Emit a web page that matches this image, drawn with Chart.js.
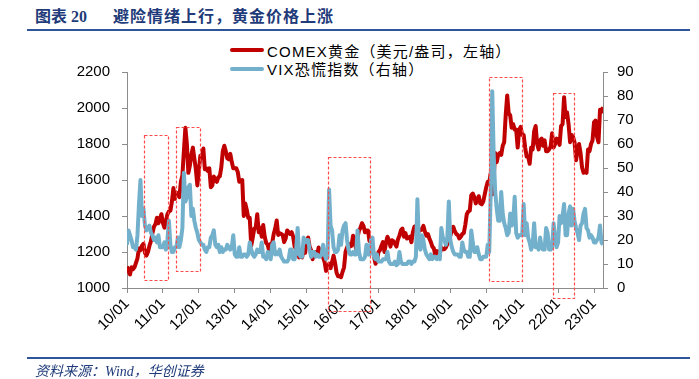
<!DOCTYPE html>
<html><head><meta charset="utf-8">
<script src="https://cdn.jsdelivr.net/npm/chart.js@4.4.1/dist/chart.umd.min.js"></script>
<style>
html,body{margin:0;padding:0;background:#fff}
body{width:699px;height:379px;position:relative;overflow:hidden;font-family:"Liberation Sans",Arial,"Noto Sans CJK SC",sans-serif;text-spacing-trim:space-all}
#title{position:absolute;left:35px;top:6px;font-weight:bold;font-size:16px;color:#1f3b7a;white-space:pre;font-family:"Liberation Serif","Noto Sans CJK SC",serif;line-height:22px}
#title .b{margin-left:26px;letter-spacing:1px}
.rule{position:absolute;left:27px;width:663px;height:2px;background:#2f5596}
#legend{position:absolute;left:230px;top:41px;font-size:15px;color:#000;font-family:"Liberation Sans","Noto Sans CJK SC",sans-serif;letter-spacing:1.2px}
.li{height:18.5px;display:flex;align-items:center;white-space:nowrap}
.sw{display:inline-block;width:34px;height:4px;margin-right:3px;border-radius:2px}
#src{position:absolute;left:35px;top:363px;font-size:14px;font-style:italic;color:#1f3b7a;font-family:"Liberation Serif","Noto Sans CJK SC",serif;line-height:18px}
canvas{position:absolute;left:0;top:0}
</style></head>
<body>
<div id="title">图表 20<span class="b">避险情绪上行，黄金价格上涨</span></div>
<div class="rule" style="top:29px"></div>
<div id="legend">
  <div class="li"><span class="sw" style="background:#c00000"></span>COMEX黄金（美元/盎司，左轴）</div>
  <div class="li"><span class="sw" style="background:#73b0cc"></span>VIX恐慌指数（右轴）</div>
</div>
<canvas id="c" width="699" height="379"></canvas>
<div class="rule" style="top:357px"></div>
<div id="src">资料来源：Wind，华创证券</div>
<script>
// x-axis tick labels (one per January, yy/mm)
const tickLabels = ['10/01','11/01','12/01','13/01','14/01','15/01','16/01','17/01','18/01','19/01','20/01','21/01','22/01','23/01'];
const firstYear = 2010;
const pointsPerYear = 24; // semi-monthly readings

// COMEX gold, USD/oz (left axis), semi-monthly readings from Jan 2010
const gold = [
1120,1095,1075,1115,1105,1115,1140,1165,1220,1210,1235,1245,1195,1180,1200,1235,1260,1305,1340,1355,1390,1360,1385,1410,
1360,1335,1370,1410,1425,1430,1480,1555,1495,1530,1525,1505,1590,1625,1760,1890,1800,1640,1680,1740,1780,1720,1660,1570,
1650,1735,1725,1775,1660,1665,1650,1665,1560,1570,1620,1600,1590,1615,1620,1670,1760,1790,1760,1720,1715,1745,1700,1665,
1665,1665,1645,1590,1595,1600,1400,1470,1435,1390,1390,1235,1280,1330,1335,1410,1310,1335,1285,1350,1285,1250,1240,1205,
1245,1250,1300,1330,1375,1295,1305,1300,1295,1255,1275,1320,1310,1300,1310,1285,1230,1215,1240,1170,1185,1170,1225,1195,
1265,1280,1230,1210,1160,1185,1200,1180,1225,1190,1180,1170,1145,1095,1115,1135,1110,1145,1180,1140,1085,1065,1065,1060,
1090,1115,1200,1225,1245,1230,1235,1290,1275,1215,1280,1320,1335,1360,1345,1310,1320,1320,1260,1275,1225,1175,1135,1150,
1200,1210,1235,1255,1200,1250,1285,1265,1230,1265,1260,1245,1230,1270,1290,1320,1330,1285,1305,1275,1280,1285,1255,1310,
1340,1345,1355,1320,1320,1325,1345,1315,1290,1300,1275,1255,1230,1220,1180,1205,1200,1195,1225,1215,1215,1225,1245,1280,
1290,1320,1340,1315,1300,1295,1275,1285,1300,1305,1350,1410,1425,1430,1515,1525,1505,1470,1490,1510,1470,1465,1480,1520,
1560,1590,1585,1640,1520,1620,1750,1700,1740,1750,1740,1790,1810,1960,2070,1970,1960,1890,1910,1880,1880,1780,1880,1895,
1850,1850,1780,1730,1730,1690,1780,1770,1870,1900,1800,1770,1820,1830,1790,1820,1760,1760,1770,1785,1860,1780,1800,1830,
1820,1795,1900,1910,2060,1950,1975,1910,1810,1850,1840,1810,1710,1765,1800,1750,1670,1640,1650,1640,1770,1760,1800,1820,
1920,1930,1840,1810,1990,1980,2005
];

// VIX index (right axis), semi-monthly readings from Jan 2010
const vix = [
18,24,22,20,17,17,16,22,35,45,30,33,26,24,25,26,23,22,20,21,19,22,17,17,
17,19,16,20,28,18,15,15,17,17,21,17,20,25,48,36,38,42,43,30,33,28,25,23,
20,19,18,18,16,15,17,17,21,22,24,18,17,18,15,17,15,16,16,18,17,16,17,22,
14,13,13,17,13,13,14,14,13,14,19,16,14,13,14,16,15,15,19,13,13,12,15,13,
12,18,19,14,15,14,16,13,12,11,11,11,12,16,16,12,12,16,25,14,13,13,21,19,
20,20,16,13,15,15,13,14,13,13,14,18,14,12,13,41,26,24,17,15,15,16,22,18,
24,26,27,20,16,14,14,15,14,14,24,15,12,12,12,13,18,14,14,20,21,13,12,14,
11,11,11,12,12,12,15,11,10,10,10,11,9.5,10,15,11,10,10,10,10,11,11,10,11,
11,13,37,19,16,22,20,16,14,13,12,14,12,13,13,12,13,12,25,21,20,18,21,36,
20,17,15,14,14,14,13,13,19,16,15,15,13,13,24,19,15,15,17,14,12,12,13,13,
13,18,15,40,82,55,40,33,28,28,40,31,27,25,22,23,31,26,28,38,23,21,22,22,
22,35,22,27,21,19,16,18,27,17,18,16,21,17,16,16,25,23,16,16,17,27,21,17,
19,30,27,30,35,22,22,31,34,26,33,28,25,23,20,26,27,31,33,25,24,21,22,21,
19,19,20,21,26,19,18
];

// highlighted risk-off periods (years) and their gold-axis bounds
const highlights = [
  {from:2010.47, to:2011.14, top:1850, bottom:1044},
  {from:2011.36, to:2012.03, top:1896, bottom:1094},
  {from:2015.59, to:2016.76, top:1728, bottom:872},
  {from:2020.08, to:2020.99, top:2171, bottom:1035},
  {from:2021.87, to:2022.45, top:2082, bottom:944}
];

const toIdx = yr => (yr - firstYear) * pointsPerYear;
const goldPts = gold.map((v,i)=>({x:i,y:v}));
const vixPts = vix.map((v,i)=>({x:i,y:v}));

const boxes = {
  id:'boxes',
  afterDatasetsDraw(chart){
    const {ctx, scales:{x, y}} = chart;
    ctx.save();
    ctx.strokeStyle = '#ff4b4b';
    ctx.lineWidth = 1.2;
    ctx.setLineDash([3,2]);
    highlights.forEach(h=>{
      const x0 = x.getPixelForValue(toIdx(h.from));
      const x1 = x.getPixelForValue(toIdx(h.to));
      const y0 = y.getPixelForValue(h.top);
      const y1 = y.getPixelForValue(h.bottom);
      ctx.strokeRect(Math.round(x0)+0.5, Math.round(y0)+0.5, Math.round(x1-x0), Math.round(y1-y0));
    });
    ctx.restore();
  }
};

Chart.defaults.font.family = '"Liberation Sans", Arial, sans-serif';
Chart.defaults.font.size = 15;
Chart.defaults.color = '#000';

const axisGrey = '#8c8c8c';
new Chart(document.getElementById('c'), {
  type:'line',
  data:{datasets:[
    {label:'COMEX黄金（美元/盎司，左轴）', data:goldPts, yAxisID:'y', borderColor:'#c00000', borderWidth:4, pointRadius:0, tension:0, order:1, borderJoinStyle:'round'},
    {label:'VIX恐慌指数（右轴）', data:vixPts, yAxisID:'y1', borderColor:'#73b0cc', borderWidth:4, pointRadius:0, tension:0, order:0, borderJoinStyle:'round'}
  ]},
  options:{
    responsive:false, animation:false, devicePixelRatio:1,
    layout:{padding:{top:72,left:0,right:0,bottom:0}},
    plugins:{legend:{display:false}, tooltip:{enabled:false}},
    scales:{
      x:{type:'linear', min:0, max:gold.length-1,
        afterBuildTicks(s){ s.ticks = tickLabels.map((_,k)=>({value:k*pointsPerYear})); },
        afterFit(s){ s.height = 91; },
        ticks:{autoSkip:false, maxRotation:45, minRotation:45, padding:2,
          callback:(v)=>tickLabels[Math.round(v/pointsPerYear)]},
        grid:{drawOnChartArea:false, tickLength:5, color:axisGrey},
        border:{color:axisGrey, width:1}},
      y:{position:'left', min:1000, max:2200,
        afterFit(s){ s.width = 127; },
        ticks:{stepSize:200, padding:12, callback:(v)=>String(v)},
        grid:{drawOnChartArea:false, tickLength:5, color:axisGrey},
        border:{color:axisGrey, width:1}},
      y1:{position:'right', min:0, max:90,
        afterFit(s){ s.width = 96; },
        ticks:{stepSize:10, padding:9, callback:(v)=>String(v)},
        grid:{drawOnChartArea:false, tickLength:5, color:axisGrey},
        border:{color:axisGrey, width:1}}
    }
  },
  plugins:[boxes]
});
</script>
</body></html>
